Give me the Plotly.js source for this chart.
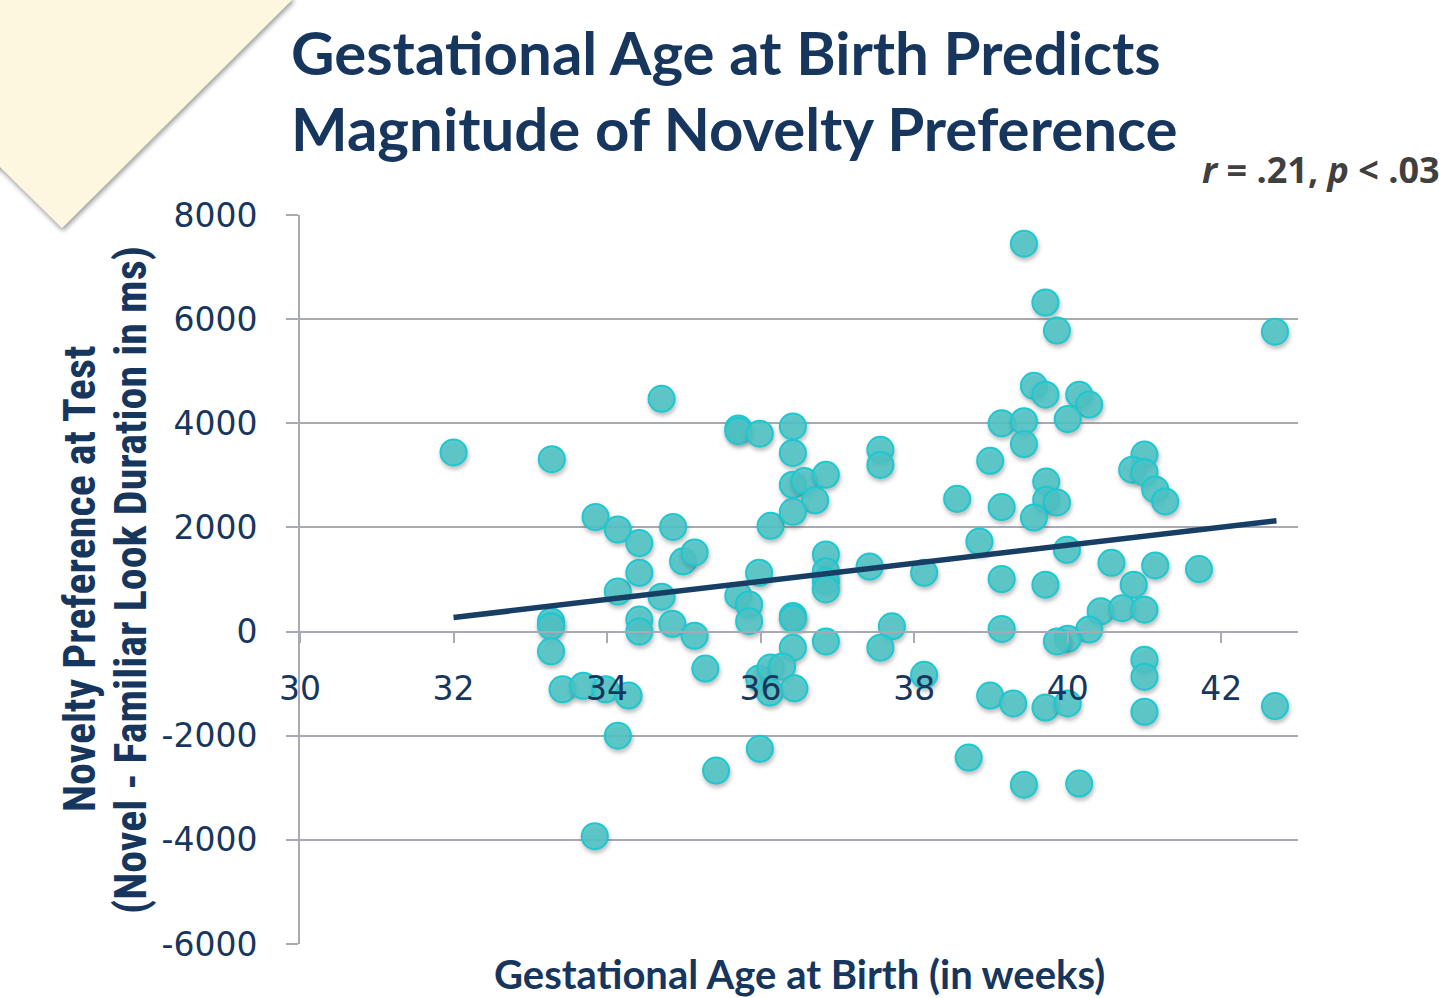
<!DOCTYPE html>
<html>
<head>
<meta charset="utf-8">
<script src="https://cdn.plot.ly/plotly-3.0.1.min.js"></script>
<style>
  html, body { margin: 0; padding: 0; background: #ffffff; }
  #wrap { position: relative; width: 1439px; height: 998px; overflow: hidden; }
  #chart { position: absolute; left: 0; top: 0; width: 1439px; height: 998px; }
  #deco { position: absolute; left: 0; top: 0; pointer-events: none; }
</style>
</head>
<body>
<div id="wrap">
  <div id="chart"></div>
  <svg id="deco" width="320" height="260">
    <defs>
      <filter id="sh" x="-20%" y="-20%" width="140%" height="140%">
        <feDropShadow dx="1" dy="3" stdDeviation="2.5" flood-color="#7a7a7a" flood-opacity="0.75"/>
      </filter>
    </defs>
    <polygon points="-5,-5 292,-5 292,0 62,228 0,167 -5,167" fill="#FEF7E0" filter="url(#sh)"/>
  </svg>
</div>
<script>
// Gestational age at birth (weeks)
const gestAgeWeeks = [
  32.00, 33.28, 33.27, 33.27, 33.27, 33.42, 33.69, 33.98, 34.28, 33.85,
  34.14, 34.42, 34.14, 34.42, 34.42, 34.42, 34.71, 34.85, 35.14, 35.28,
  34.99, 35.14, 34.86, 34.71, 35.42, 33.84, 34.14, 35.99, 36.13, 35.71,
  35.85, 35.85, 35.98, 36.42, 36.42, 36.42, 35.98, 36.13, 36.28, 36.12,
  36.44, 35.71, 35.71, 35.99, 36.42, 36.42, 36.42, 36.57, 36.85, 36.71,
  36.42, 37.56, 37.56, 38.56, 36.85, 36.85, 36.85, 36.85, 37.42, 38.13,
  36.85, 37.71, 37.56, 38.13, 39.43, 39.71, 39.86, 39.56, 39.71, 40.15,
  40.28, 40.00, 39.14, 39.43, 39.43, 38.99, 39.14, 39.72, 39.72, 39.86,
  39.56, 41.00, 40.84, 41.00, 41.14, 41.27, 38.85, 39.99, 40.57, 41.14,
  41.71, 39.14, 39.71, 40.86, 40.43, 40.71, 41.00, 40.28, 40.00, 39.86,
  39.14, 41.00, 41.00, 41.00, 38.99, 39.29, 39.71, 40.00, 42.70, 38.71,
  39.43, 40.15, 42.70
];
// Novelty preference (novel - familiar look duration, ms)
const noveltyPrefMs = [
  3440, 3310, 200, 100, -380, -1110, -1040, -1110, -1230, 2200,
  1960, 1700, 770, 1130, 230, 0, 670, 150, -80, -710,
  1350, 1520, 2010, 4470, -2670, -3930, -2000, -2250, 2030, 690,
  520, 200, 1130, 300, 250, -310, -900, -690, -670, -1170,
  -1090, 3900, 3850, 3800, 3940, 3430, 2820, 2890, 3010, 2520,
  2300, 3490, 3200, 2550, 1480, 1160, 970, 810, 1250, 1130,
  -190, 100, -310, -830, 7450, 6320, 5780, 4720, 4550, 4550,
  4360, 4080, 4000, 4040, 3600, 3280, 2390, 2880, 2530, 2480,
  2190, 3400, 3110, 3060, 2730, 2500, 1730, 1570, 1320, 1270,
  1200, 1010, 900, 900, 390, 450, 420, 40, -140, -190,
  50, -540, -870, -1540, -1230, -1380, -1460, -1380, -1430, -2420,
  -2940, -2920, 5760
];
// Linear trendline end points
const trendWeeks = [32.0, 42.72];
const trendMs = [270, 2130];

const xTickVals = [30, 32, 34, 36, 38, 40, 42];
const yTickVals = [-6000, -4000, -2000, 0, 2000, 4000, 6000, 8000];

const titleLine1 = 'Gestational Age at Birth Predicts';
const titleLine2 = 'Magnitude of Novelty Preference';
const statText = '<b><i>r</i> = .21, <i>p</i> &lt; .03</b>';
const xTitle = 'Gestational Age at Birth (in weeks)';
const yTitle1 = 'Novelty Preference at Test';
const yTitle2 = '(Novel - Familiar Look Duration in ms)';

const navy = '#17365D';
const gridGray = '#A7AAB3';
const titleFont = 'Lato, "Open Sans", sans-serif';
const narrowFont = '"Liberation Sans Narrow", "Roboto Condensed", Lato, sans-serif';
const tickFont = '"DejaVu Sans", Verdana, sans-serif';

const W = 1439, H = 998;
const L = 300, R = 141, T = 215, B = 54;
const pw = W - L - R, ph = H - T - B;
const px = v => (v - L) / pw;            // pixel x -> paper x
const py = v => (H - B - v) / ph;        // pixel y -> paper y

const traces = [
  {
    type: 'scatter', mode: 'markers',
    x: gestAgeWeeks, y: noveltyPrefMs,
    marker: {
      size: 26,
      color: 'rgba(76,198,200,0.85)',
      line: { color: '#1CC8D1', width: 2 }
    },
    hoverinfo: 'x+y', showlegend: false
  },
  {
    type: 'scatter', mode: 'lines',
    x: trendWeeks, y: trendMs,
    line: { color: '#173F66', width: 5.5 },
    hoverinfo: 'skip', showlegend: false
  }
];

const layout = {
  width: W, height: H,
  margin: { l: L, r: R, t: T, b: B, pad: 0 },
  paper_bgcolor: 'rgba(0,0,0,0)',
  plot_bgcolor: '#ffffff',
  showlegend: false,
  xaxis: {
    range: [30, 43],
    tickvals: xTickVals,
    ticktext: xTickVals.map(String),
    anchor: 'free',
    position: 6000 / 14000,
    showgrid: false,
    zeroline: false,
    showline: true, linecolor: gridGray, linewidth: 2,
    ticks: 'outside', ticklen: 10, tickwidth: 2, tickcolor: gridGray,
    ticklabelstandoff: 18,
    tickfont: { family: tickFont, size: 33, color: navy },
    fixedrange: true
  },
  yaxis: {
    range: [-6000, 8000],
    tickvals: yTickVals,
    ticktext: yTickVals.map(String),
    showgrid: true, gridcolor: gridGray, gridwidth: 2,
    zeroline: false,
    showline: true, linecolor: gridGray, linewidth: 2,
    ticks: 'outside', ticklen: 12, tickwidth: 2, tickcolor: gridGray,
    ticklabelstandoff: 22,
    tickfont: { family: tickFont, size: 33, color: navy },
    fixedrange: true
  },
  annotations: [
    { text: '<b>' + titleLine1 + '</b>', xref: 'paper', yref: 'paper',
      x: px(289), y: py(52), xanchor: 'left', yanchor: 'middle', showarrow: false,
      font: { family: titleFont, size: 60, color: navy, weight: 900 } },
    { text: '<b>' + titleLine2 + '</b>', xref: 'paper', yref: 'paper',
      x: px(289), y: py(128), xanchor: 'left', yanchor: 'middle', showarrow: false,
      font: { family: titleFont, size: 60, color: navy, weight: 900 } },
    { text: statText, xref: 'paper', yref: 'paper',
      x: px(1200), y: py(169), xanchor: 'left', yanchor: 'middle', showarrow: false,
      font: { family: '"Open Sans", Lato, sans-serif', size: 36, color: '#404040' } },
    { text: '<b>' + xTitle + '</b>', xref: 'paper', yref: 'paper',
      x: px(799), y: py(974), xanchor: 'center', yanchor: 'middle', showarrow: false,
      font: { family: titleFont, size: 40, color: navy } },
    { text: '<b>' + yTitle1 + '</b>', xref: 'paper', yref: 'paper',
      x: px(80), y: py(579), xanchor: 'center', yanchor: 'middle', showarrow: false,
      textangle: -90,
      font: { family: narrowFont, size: 44, color: navy } },
    { text: '<b>' + yTitle2 + '</b>', xref: 'paper', yref: 'paper',
      x: px(131), y: py(580), xanchor: 'center', yanchor: 'middle', showarrow: false,
      textangle: -90,
      font: { family: narrowFont, size: 44, color: navy } }
  ]
};

Plotly.newPlot('chart', traces, layout, { displayModeBar: false, staticPlot: true }).then(() => {
  document.querySelectorAll('#chart .scatterlayer .trace:first-child .point').forEach(p => {
    p.style.filter = 'drop-shadow(1px 3px 2px rgba(90,90,90,0.45))';
  });
});
</script>
</body>
</html>
